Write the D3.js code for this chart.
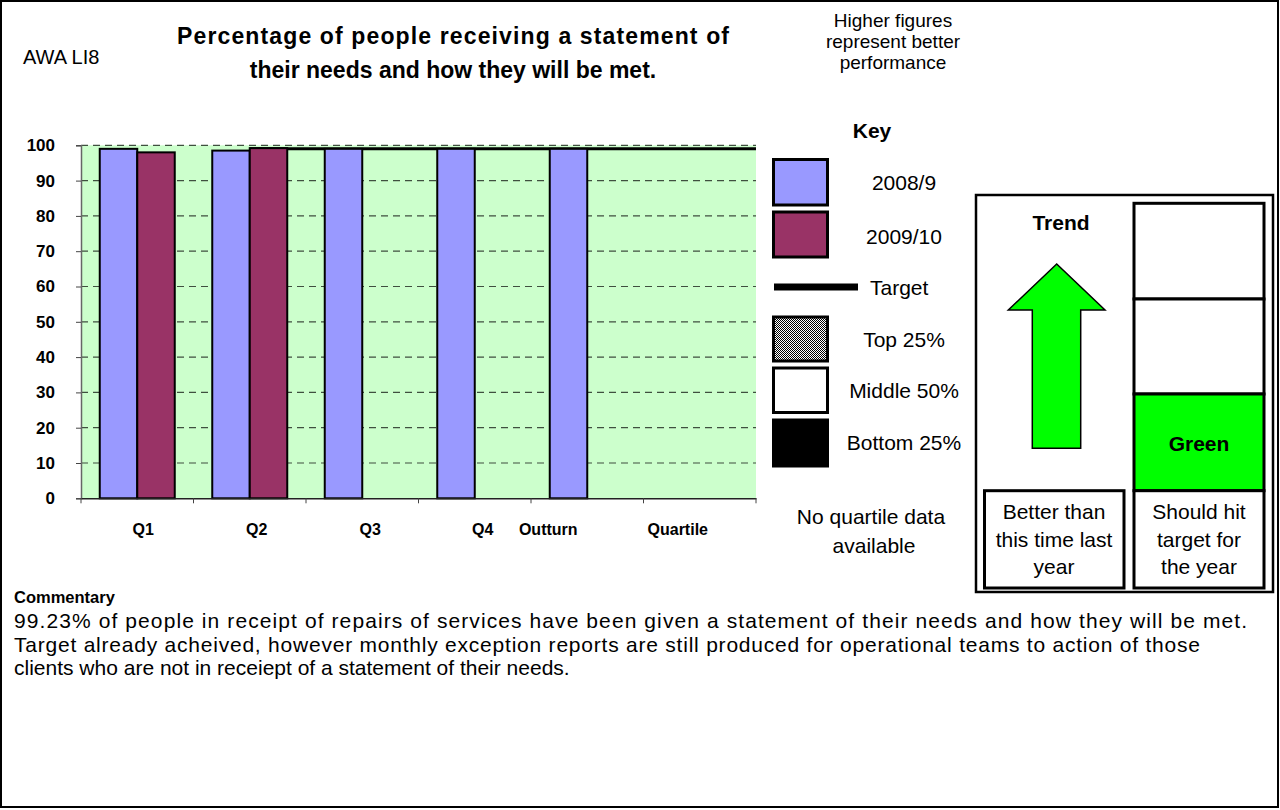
<!DOCTYPE html>
<html>
<head>
<meta charset="utf-8">
<script src="https://cdn.jsdelivr.net/npm/d3@7/dist/d3.min.js"></script>
<style>
  html, body { margin: 0; padding: 0; background: #ffffff; }
  svg text { font-family: "Liberation Sans", Arial, sans-serif; fill: #000; }
</style>
</head>
<body>
<svg id="chart" width="1280" height="810"></svg>
<script>
// Quarterly results for indicator AWA LI8 (percent)
const categories = ["Q1", "Q2", "Q3", "Q4", "Outturn", "Quartile"];
const series2008 = [99, 98.5, 99, 99, 99, null];
const series2009 = [98, 99.2, null, null, null, null];
const targetValue = 99;
const yTicks = [0, 10, 20, 30, 40, 50, 60, 70, 80, 90, 100];

const legendItems = ["2008/9", "2009/10", "Target", "Top 25%", "Middle 50%", "Bottom 25%"];
const commentaryLines = [
  "99.23% of people in receipt of repairs of services have been given a  statement of their needs and how they will be met.",
  "Target already acheived, however monthly exception reports are still produced for operational teams to action of those",
  "clients who are not in receiept of a statement of their needs."
];

const COL_A = "#9999ff", COL_B = "#993366", PLOT_BG = "#ccffcc", ARROW = "#00ff00";

const svg = d3.select("#chart");
const defs = svg.append("defs");
const pat = defs.append("pattern").attr("id", "dots").attr("patternUnits", "userSpaceOnUse")
  .attr("width", 2).attr("height", 2);
pat.append("rect").attr("width", 2).attr("height", 2).attr("fill", "#fff");
pat.append("rect").attr("width", 1).attr("height", 1).attr("fill", "#000");
pat.append("rect").attr("x", 1).attr("y", 1).attr("width", 1).attr("height", 1).attr("fill", "#000");

// page frame
svg.append("rect").attr("x", 1).attr("y", 1).attr("width", 1277).attr("height", 806)
  .attr("fill", "none").attr("stroke", "#000").attr("stroke-width", 2);

// header
svg.append("text").attr("x", 23).attr("y", 64).style("font-size", "20px").text("AWA LI8");
svg.append("text").attr("x", 453).attr("y", 44).attr("text-anchor", "middle")
  .style("font-size", "23px").style("font-weight", "bold")
  .attr("textLength", 552).attr("lengthAdjust", "spacing")
  .text("Percentage of people receiving a statement of");
svg.append("text").attr("x", 453).attr("y", 78).attr("text-anchor", "middle")
  .style("font-size", "23px").style("font-weight", "bold")
  .text("their needs and how they will be met.");
const note = svg.append("text").attr("text-anchor", "middle").style("font-size", "19px");
["Higher figures", "represent better", "performance"].forEach((t, i) =>
  note.append("tspan").attr("x", 893).attr("y", 27 + i * 21).text(t));

// bar chart
const plot = { left: 81, right: 756, top: 145.3, bottom: 498.3 };
const x = d3.scaleBand().domain(categories).range([plot.left, plot.right]).padding(0);
const y = d3.scaleLinear().domain([0, 100]).range([plot.bottom, plot.top]);

svg.append("rect").attr("x", plot.left).attr("y", plot.top)
  .attr("width", plot.right - plot.left).attr("height", plot.bottom - plot.top).attr("fill", PLOT_BG);

svg.append("g").selectAll("line").data(yTicks.filter(d => d > 0)).join("line")
  .attr("x1", plot.left).attr("x2", plot.right)
  .attr("y1", d => y(d)).attr("y2", d => y(d))
  .attr("stroke", "#3f4f3f").attr("stroke-width", 1.2).attr("stroke-dasharray", "7,5");

// target line
svg.append("line")
  .attr("x1", x("Q2") + x.bandwidth() / 2).attr("x2", plot.right)
  .attr("y1", y(targetValue)).attr("y2", y(targetValue))
  .attr("stroke", "#000").attr("stroke-width", 3);

const barW = x.bandwidth() / 3;
const bars = svg.append("g");
bars.selectAll("rect.a").data(categories.map((c, i) => ({ c, v: series2008[i] })).filter(d => d.v != null))
  .join("rect").attr("class", "a")
  .attr("x", d => x(d.c) + x.bandwidth() / 6).attr("width", barW)
  .attr("y", d => y(d.v)).attr("height", d => y(0) - y(d.v))
  .attr("fill", COL_A).attr("stroke", "#000").attr("stroke-width", 2);
bars.selectAll("rect.b").data(categories.map((c, i) => ({ c, v: series2009[i] })).filter(d => d.v != null))
  .join("rect").attr("class", "b")
  .attr("x", d => x(d.c) + x.bandwidth() / 6 + barW).attr("width", barW)
  .attr("y", d => y(d.v)).attr("height", d => y(0) - y(d.v))
  .attr("fill", COL_B).attr("stroke", "#000").attr("stroke-width", 2);

// y axis
const yAxis = svg.append("g").attr("transform", `translate(${plot.left},0)`)
  .call(d3.axisLeft(y).tickValues(yTicks).tickSize(5).tickPadding(21));
yAxis.select(".domain").attr("stroke", "#666").attr("stroke-width", 1.5);
yAxis.selectAll(".tick line").attr("stroke", "#444");
yAxis.selectAll("text").style("font-size", "17px").style("font-weight", "bold")
  .style("font-family", "'Liberation Sans', Arial, sans-serif");

// x axis; the label boxes of the last two columns sit further left
const labelShift = { Q1: 6, Q2: 7, Q3: 8, Q4: 8, Outturn: -39, Quartile: -22 };
const xAxis = svg.append("g").attr("transform", `translate(0,${plot.bottom})`)
  .call(d3.axisBottom(x).tickSize(0).tickPadding(25));
xAxis.select(".domain").attr("stroke", "#222").attr("stroke-width", 1.5);
xAxis.selectAll("text").attr("dx", d => labelShift[d]).style("font-size", "16px").style("font-weight", "bold")
  .style("font-family", "'Liberation Sans', Arial, sans-serif");
svg.append("g").selectAll("line").data(categories.concat([null])).join("line")
  .attr("x1", (d, i) => plot.left + i * x.step()).attr("x2", (d, i) => plot.left + i * x.step())
  .attr("y1", plot.bottom).attr("y2", plot.bottom + 5).attr("stroke", "#444");

// key
svg.append("text").attr("x", 872).attr("y", 138).attr("text-anchor", "middle")
  .style("font-size", "21px").style("font-weight", "bold").text("Key");
const sw = [
  { y: 159.5, h: 45.5, fill: COL_A, stroke: "#000" },
  { y: 212, h: 45, fill: COL_B, stroke: "#000" },
  null,
  { y: 317, h: 44, fill: "url(#dots)", stroke: "#000" },
  { y: 368, h: 44.5, fill: "#fff", stroke: "#000" },
  { y: 420, h: 46, fill: "#000", stroke: "#000" }
];
const key = svg.append("g");
sw.forEach((s, i) => {
  if (s) {
    key.append("rect").attr("x", 773.5).attr("y", s.y).attr("width", 54).attr("height", s.h)
      .attr("fill", s.fill).attr("stroke", s.stroke).attr("stroke-width", 3);
  }
});
key.append("line").attr("x1", 774).attr("x2", 858).attr("y1", 287).attr("y2", 287)
  .attr("stroke", "#000").attr("stroke-width", 7);
const labelY = [190, 244, 295, 347, 398, 450];
legendItems.forEach((t, i) => {
  const isTarget = t === "Target";
  key.append("text").attr("x", isTarget ? 870 : 904).attr("y", labelY[i])
    .attr("text-anchor", isTarget ? "start" : "middle").style("font-size", "21px").text(t);
});
const nq = svg.append("text").attr("text-anchor", "middle").style("font-size", "21px");
nq.append("tspan").attr("x", 871).attr("y", 524).text("No quartile data");
nq.append("tspan").attr("x", 874).attr("y", 553).text("available");

// trend / target panel
const panel = svg.append("g");
panel.append("rect").attr("x", 976).attr("y", 195).attr("width", 297).attr("height", 397)
  .attr("fill", "#fff").attr("stroke", "#000").attr("stroke-width", 2.5);
panel.append("text").attr("x", 1061).attr("y", 230).attr("text-anchor", "middle")
  .style("font-size", "21px").style("font-weight", "bold").text("Trend");
const arrow = [[1056.7, 264], [1105, 310], [1080.7, 310], [1080.7, 448.3], [1032.3, 448.3], [1032.3, 310], [1008.3, 310]];
panel.append("path").attr("d", d3.line()(arrow) + "Z")
  .attr("fill", ARROW).attr("stroke", "#000").attr("stroke-width", 1.5);

const rag = [
  { y0: 203.3, y1: 299, fill: "#fff" },
  { y0: 299, y1: 394, fill: "#fff" },
  { y0: 394, y1: 490.7, fill: ARROW },
  { y0: 490.7, y1: 588, fill: "#fff" }
];
rag.forEach(r => panel.append("rect").attr("x", 1134).attr("y", r.y0).attr("width", 130).attr("height", r.y1 - r.y0)
  .attr("fill", r.fill).attr("stroke", "#000").attr("stroke-width", 3));
panel.append("rect").attr("x", 984.5).attr("y", 490.7).attr("width", 139.5).attr("height", 97.3)
  .attr("fill", "#fff").attr("stroke", "#000").attr("stroke-width", 3);
panel.append("text").attr("x", 1199).attr("y", 451).attr("text-anchor", "middle")
  .style("font-size", "21px").style("font-weight", "bold").text("Green");
const t1 = panel.append("text").attr("text-anchor", "middle").style("font-size", "21px");
["Better than", "this time last", "year"].forEach((t, i) =>
  t1.append("tspan").attr("x", 1054).attr("y", 519 + i * 27.5).text(t));
const t2 = panel.append("text").attr("text-anchor", "middle").style("font-size", "21px");
["Should hit", "target for", "the year"].forEach((t, i) =>
  t2.append("tspan").attr("x", 1199).attr("y", 519 + i * 27.5).text(t));

// commentary
svg.append("text").attr("x", 14).attr("y", 603).style("font-size", "16.5px").style("font-weight", "bold").text("Commentary");
const lineWidths = [1233, 1186, null];
commentaryLines.forEach((t, i) => {
  const el = svg.append("text").attr("x", 14).attr("y", 628 + i * 23.5).style("font-size", "21px").text(t);
  if (lineWidths[i]) el.attr("textLength", lineWidths[i]).attr("lengthAdjust", "spacing");
});
</script>
</body>
</html>
